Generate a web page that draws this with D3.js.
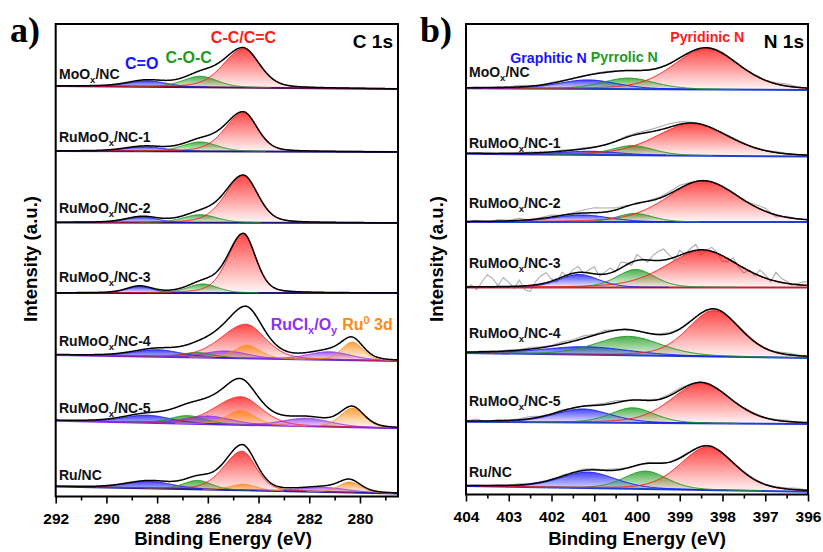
<!DOCTYPE html>
<html><head><meta charset="utf-8">
<script src="https://cdn.jsdelivr.net/npm/d3@7"></script>
<style>
body{margin:0;background:#fff}
text{font-family:"Liberation Sans",Arial,sans-serif;font-weight:bold}
</style>
</head><body>
<svg id="c" width="823" height="552"></svg>
<script>
// ================= DATA =================
const sampleNames = ["MoOx/NC","RuMoOx/NC-1","RuMoOx/NC-2","RuMoOx/NC-3","RuMoOx/NC-4","RuMoOx/NC-5","Ru/NC"];
const c1sTicks = [292,290,288,286,284,282,280];
const c1sMinorTicks = [291,289,287,285,283,281,279];
const n1sTicks = [404,403,402,401,400,399,398,397,396];
const n1sMinorTicks = [403.5,402.5,401.5,400.5,399.5,398.5,397.5,396.5];

// C 1s fitted components: [component, centre (eV), height (a.u.), FWHM low-BE side (eV), FWHM high-BE side (eV, optional)]
const c1s_MoOx  = [["CO",288.4,6,1.8],["COC",286.3,11,1.6],["CC",284.6,39,1.5,1.85]];
const c1s_NC1   = [["CO",288.5,4.5,1.8],["COC",286.3,9.5,1.6],["CC",284.6,39,1.3,1.7]];
const c1s_NC2   = [["CO",288.6,5.5,1.5],["COC",286.3,8,1.6],["CC",284.6,47,1.35,1.7]];
const c1s_NC3   = [["CO",288.7,6.5,1.2],["COC",286.2,9,1.4],["CC",284.6,59,1.15,1.45]];
const c1s_NC4   = [["CO",288.0,7,2.2],["COC",286.4,5,1.5],["CC",284.5,34,1.8,2.3],["RuCl",285.3,7,2.0],["RuCl",281.2,8,2.0],["Ru0",284.45,13,1.2],["Ru0",280.3,18,1.0]];
const c1s_NC5   = [["CO",288.4,7.5,2.2],["COC",286.8,8,1.6],["CC",284.7,28,1.9,2.4],["RuCl",286.0,8,2.2],["RuCl",282.1,8,2.2],["Ru0",284.7,14,1.3],["Ru0",280.3,19,1.1]];
const c1s_RuNC  = [["CO",288.3,7,2.2],["COC",286.4,9,1.3],["CC",284.65,39,1.3,1.7],["RuCl",281.4,4.5,2.2],["Ru0",284.6,6,1.2],["Ru0",280.4,10.5,1.0]];
const c1sFits = [c1s_MoOx,c1s_NC1,c1s_NC2,c1s_NC3,c1s_NC4,c1s_NC5,c1s_RuNC];
const c1sBackground = [3,1,0.5,0,6,7.6,7];   // background rise at high BE (a.u.)

// N 1s fitted components
const n1s_MoOx = [["Gra",401.15,9,1.6],["Pyrr",400.2,11,1.45],["Pyri",398.38,41,1.8]];
const n1s_NC1  = [["Gra",401.1,3.5,1.6],["Pyrr",400.1,9.5,1.15],["Pyri",398.7,32,2.0]];
const n1s_NC2  = [["Gra",401.3,7,1.55],["Pyrr",400.05,8.5,1.0],["Pyri",398.45,41,2.0]];
const n1s_NC3  = [["Gra",401.36,13,1.1],["Pyrr",400.03,18,1.05],["Pyri",398.47,37,2.0]];
const n1s_NC4  = [["Gra",401.2,8,2.4],["Pyrr",400.2,19,1.8],["Pyri",398.2,46,1.45]];
const n1s_NC5  = [["Gra",401.27,13.5,1.55],["Pyrr",400.1,15,1.2],["Pyri",398.5,40,1.65]];
const n1s_RuNC = [["Gra",401.15,16,1.55],["Pyrr",399.8,18,1.2],["Pyri",398.35,43,1.5]];
const n1sFits = [n1s_MoOx,n1s_NC1,n1s_NC2,n1s_NC3,n1s_NC4,n1s_NC5,n1s_RuNC];
const n1sBackground = [1.7,2.7,0,0,5,2.3,5.7];

// N 1s raw-data residuals from the fit envelope (a.u.), every 0.25 eV from 404 to 396
const n1sResid_MoOx = [0,1,-0.5,1,0.5,1.5,0.5,-0.5,1,0.5,0,-0.5,0.5,1,0.5,0,-0.5,0.5,0,-0.5,0.5,0,-1,0.5,1,0,-0.5,0.5,0,1,2,0.5,0];
const n1sResid_NC1  = [0,0.5,1,0,-0.5,0.5,1,0.5,0,1,0.5,1,0.5,0,-0.5,1,1.5,2,3,3.5,2.5,1,0,-0.5,0.5,1,0.5,-0.5,0,1,0.5,0,0];
const n1sResid_NC2  = [0,1,-1,1.5,0.5,2,-0.5,1,2,0,1,3,5,4,2,1,-1,0.5,1,2,3,1,0,-1,0.5,1,-1,2,3,-2,1,0,0];
const n1sResid_NC4  = [0,0.5,1,0,1,0.5,1.5,1,0.5,2,1.5,2.5,1,2,0.5,1,0,-0.5,0.5,1,0,0.5,0,-0.5,0.5,0,1,0.5,-0.5,0.5,1.5,0.5,0];
const n1sResid_NC5  = [0,2,-1,1.5,0.5,1,2,0.5,0,1,-0.5,0.5,1,1.5,2,0.5,0,1,0.5,1.5,2,0.5,0,-1,0.5,-1,0.5,1,0,0.5,1,0,0];
const n1sResid_RuNC = [0,0.5,0,1,0.5,1,0,0.5,-0.5,1,0.5,1.5,1,0.5,1.5,0.5,-0.5,1,0.5,0,1,0.5,0,0.5,-0.5,0,0.5,0.5,0,0.5,1,1.5,0];
// NC-3 is noisier: every 0.125 eV from 404 to 396
const n1sResid_NC3  = [-1,2,-3,5,12,8,1,9,4,-2,6,-4,-6,3,8,10,2,-3,5,-2,4,6,-1,3,7,-2,2,5,-1,6,2,-3,6,1,-2,5,9,11,4,-3,5,-1,3,6,-5,0,4,1,-6,-3,4,-2,-5,1,-2,6,3,-2,9,4,2,-1,1,3,4];
const n1sResiduals = [n1sResid_MoOx,n1sResid_NC1,n1sResid_NC2,n1sResid_NC3,n1sResid_NC4,n1sResid_NC5,n1sResid_RuNC];

// ================= STYLE / LAYOUT =================
const compColor = {CO:"#1414ff",COC:"#1e9a1e",CC:"#ff1a1a",RuCl:"#9030f0",Ru0:"#ff8a14",
                   Gra:"#1414ff",Pyrr:"#1e9a1e",Pyri:"#ff1a1a"};
const drawOrderA = ["CO","COC","CC","RuCl","Ru0"];
const drawOrderB = ["Gra","Pyrr","Pyri"];

const panelA = {x0:55.7,x1:398,top:24,bottom:496.5,domain:[292,278.5],
  bottoms:[89,152,223,293,361,428.3,493.5], labelY:[79,142,213,282,346,413,480], labelX:59,
  baseColor:["#5a1050","#1a1a80","#1a1a80","#1a1a80","#6a28d0","#7a28e0","#2020a0"]};
const panelB = {x0:466,x1:808,top:24,bottom:494.5,domain:[404,396],
  bottoms:[90,156.5,222,287.5,358,424,491.8], labelY:[77,148,208,268,338,406,477], labelX:469,
  baseColor:["#1f3fd0","#1f3fd0","#1f3fd0","#c0203a","#1f3fd0","#1f3fd0","#1f3fd0"]};

const svg = d3.select("#c");
const defs = svg.append("defs");
Object.entries(compColor).forEach(([k,c])=>{
  const g = defs.append("linearGradient").attr("id","g"+k).attr("x1",0).attr("y1",0).attr("x2",0).attr("y2",1);
  g.append("stop").attr("offset","0%").attr("stop-color",c).attr("stop-opacity",0.8);
  g.append("stop").attr("offset","100%").attr("stop-color",c).attr("stop-opacity",0.03);
});

const yAmp = d3.scaleLinear().domain([0,100]).range([0,100]); // a.u. -> px

function pv(E,p){
  const c=p[1], h=p[2], w=(E>c && p[4]) ? p[4] : p[3];
  const d=(E-c)/w, m=0.3;
  return h*((1-m)*Math.exp(-4*Math.LN2*d*d) + m/(1+4*d*d));
}

function richLabel(t, name, fs){
  const i = name.indexOf("Ox");
  if(i<0){ t.text(name); return; }
  t.append("tspan").text(name.slice(0,i+1));
  t.append("tspan").attr("font-size",fs*0.68).attr("dy",fs*0.28).text("x");
  t.append("tspan").attr("dy",-fs*0.28).text(name.slice(i+2));
}

function drawPanel(P, fits, bgs, order, residuals){
  const x = d3.scaleLinear().domain(P.domain).range([P.x0,P.x1]);
  const lo = Math.min(...P.domain), hi = Math.max(...P.domain);
  const Es = d3.range(hi, lo-1e-9, -0.02);
  const g = svg.append("g");
  fits.forEach((fit,i)=>{
    const bottom = P.bottoms[i];
    const bgY = d3.scaleLinear().domain(P.domain).range([bottom - yAmp(bgs[i]), bottom]);
    const env = E => fit.reduce((s,p)=>s+pv(E,p),0);
    const lg = g.append("g");
    if(residuals){
      const res = residuals[i];
      const step = (hi-lo)/(res.length-1);
      const pts = res.map((r,j)=>{const E=hi-j*step; return [E, env(E)+r];});
      lg.append("path").datum(pts)
        .attr("d", d3.line().x(d=>x(d[0])).y(d=>bgY(d[0])-yAmp(d[1])))
        .attr("fill","none").attr("stroke","#adadad").attr("stroke-width",1.1);
    }
    const sorted = fit.slice().sort((a,b)=>order.indexOf(a[0])-order.indexOf(b[0]));
    sorted.forEach(p=>{
      const vals = Es.map(E=>[E,pv(E,p)]);
      lg.append("path").datum(vals)
        .attr("d", d3.area().x(d=>x(d[0])).y0(d=>bgY(d[0])).y1(d=>bgY(d[0])-yAmp(d[1])))
        .attr("fill","url(#g"+p[0]+")");
    });
    lg.append("line").attr("x1",P.x0).attr("x2",P.x1)
      .attr("y1",bgY(P.domain[0])).attr("y2",bgY(P.domain[1]))
      .attr("stroke",P.baseColor[i]).attr("stroke-width",2);
    sorted.forEach(p=>{
      const vals = Es.map(E=>[E,pv(E,p)]);
      lg.append("path").datum(vals)
        .attr("d", d3.line().defined(d=>d[1]>0.25).x(d=>x(d[0])).y(d=>bgY(d[0])-yAmp(d[1])))
        .attr("fill","none").attr("stroke",compColor[p[0]]).attr("stroke-width",1);
    });
    lg.append("path").datum(Es.map(E=>[E,env(E)]))
      .attr("d", d3.line().x(d=>x(d[0])).y(d=>bgY(d[0])-yAmp(d[1])))
      .attr("fill","none").attr("stroke","#000").attr("stroke-width",1.5);
    const t = lg.append("text").attr("x",P.labelX).attr("y",P.labelY[i]).attr("font-size",14).attr("fill","#111");
    richLabel(t, sampleNames[i], 14);
  });
  svg.append("rect").attr("x",P.x0).attr("y",P.top).attr("width",P.x1-P.x0).attr("height",P.bottom-P.top)
    .attr("fill","none").attr("stroke","#000").attr("stroke-width",2);
  return x;
}

const xA = drawPanel(panelA, c1sFits, c1sBackground, drawOrderA, null);
const xB = drawPanel(panelB, n1sFits, n1sBackground, drawOrderB, n1sResiduals);

function axes(P, x, major, minor){
  const ga = svg.append("g").attr("transform",`translate(0,${P.bottom})`)
    .call(d3.axisBottom(x).tickValues(major).tickSize(7).tickPadding(9).tickFormat(d3.format("d")));
  ga.select(".domain").remove();
  ga.selectAll("line").attr("stroke-width",1.6);
  ga.selectAll("text").attr("font-size",15.5).attr("fill","#000");
  const gm = svg.append("g").attr("transform",`translate(0,${P.bottom})`)
    .call(d3.axisBottom(x).tickValues(minor).tickSize(4).tickFormat(""));
  gm.select(".domain").remove();
  gm.selectAll("line").attr("stroke-width",1.6);
}
axes(panelA, xA, c1sTicks, c1sMinorTicks);
axes(panelB, xB, n1sTicks, n1sMinorTicks);

svg.append("text").attr("x",223).attr("y",545).attr("text-anchor","middle").attr("font-size",18.6).text("Binding Energy (eV)");
svg.append("text").attr("x",637).attr("y",545).attr("text-anchor","middle").attr("font-size",18.6).text("Binding Energy (eV)");
svg.append("text").attr("transform","translate(37,259) rotate(-90)").attr("text-anchor","middle").attr("font-size",18.6).text("Intensity (a.u.)");
svg.append("text").attr("transform","translate(443,259) rotate(-90)").attr("text-anchor","middle").attr("font-size",18.6).text("Intensity (a.u.)");

svg.append("text").attr("x",10).attr("y",42).attr("font-size",36).style("font-family","'Liberation Serif','Times New Roman',serif").text("a)");
svg.append("text").attr("x",420).attr("y",42).attr("font-size",36).style("font-family","'Liberation Serif','Times New Roman',serif").text("b)");

const lab = (x,y,txt,col,fs,anchor)=>svg.append("text").attr("x",x).attr("y",y).attr("text-anchor",anchor||"middle")
  .attr("font-size",fs).attr("fill",col).text(txt);
lab(243.5,42.5,"C-C/C=C",compColor.CC,16);
lab(188.7,62.5,"C-O-C",compColor.COC,16);
lab(141.7,69,"C=O",compColor.CO,16);
lab(393,48,"C 1s","#000",19,"end");
const rc = svg.append("text").attr("x",304).attr("y",330).attr("text-anchor","middle").attr("font-size",16).attr("fill",compColor.RuCl);
rc.append("tspan").text("RuCl"); rc.append("tspan").attr("font-size",11).attr("dy",4).text("x");
rc.append("tspan").attr("dy",-4).text("/O"); rc.append("tspan").attr("font-size",11).attr("dy",4).text("y");
const r0 = svg.append("text").attr("x",367.5).attr("y",330).attr("text-anchor","middle").attr("font-size",16).attr("fill",compColor.Ru0);
r0.append("tspan").text("Ru"); r0.append("tspan").attr("font-size",11).attr("dy",-6).text("0");
r0.append("tspan").attr("dy",6).text(" 3d");

lab(707.3,41.7,"Pyridinic N",compColor.Pyri,14.2);
lab(624.3,61.7,"Pyrrolic N",compColor.Pyrr,14.2);
lab(548.5,62.7,"Graphitic N",compColor.Gra,14.2);
lab(804,48,"N 1s","#000",19,"end");
</script>
</body></html>
